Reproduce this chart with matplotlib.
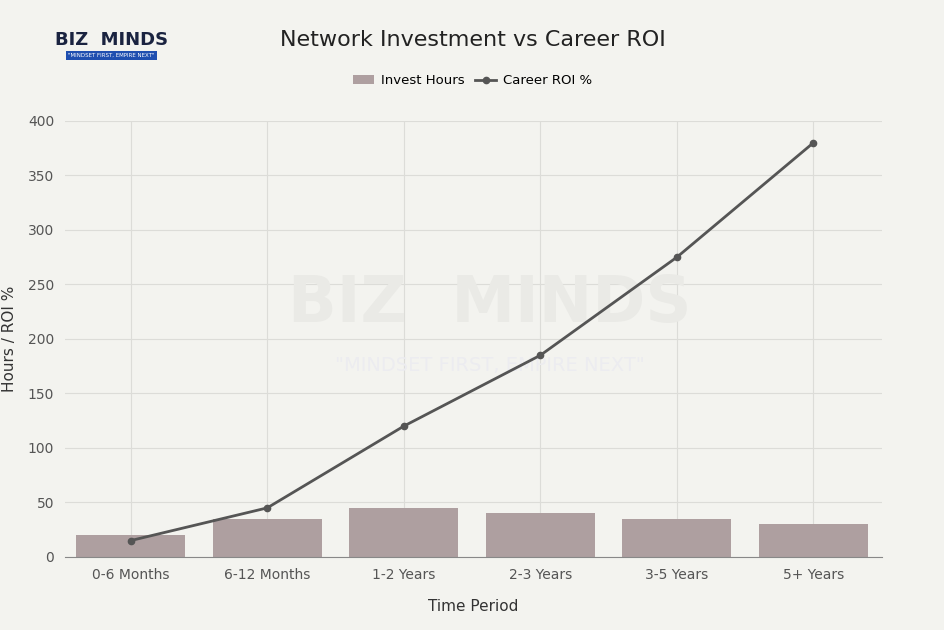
import numpy as np
import matplotlib.pyplot as plt

periods = ['0-6 Months', '6-12 Months', '1-2 Years', '2-3 Years', '3-5 Years', '5+ Years']
invest_hours = [20, 35, 45, 40, 35, 30]
career_roi = [15, 45, 120, 185, 275, 380]

bg = '#f3f3ef'
fig = plt.figure(figsize=(9.45, 6.3), dpi=100, facecolor=bg)
ax = fig.add_axes([0.069, 0.116, 0.864, 0.692], facecolor=bg)

xs = np.arange(len(periods))
bars = ax.bar(xs, invest_hours, width=0.8, color='#ae9fa0', label='Invest Hours', zorder=2)
line, = ax.plot(xs, career_roi, color='#555555', lw=2, marker='o', ms=4.5,
                label='Career ROI %', zorder=3)

ax.set_xlim(-0.48, 5.5)
ax.set_ylim(0, 400)
ax.set_yticks(range(0, 401, 50))
ax.set_xticks(xs)
ax.set_xticklabels(periods)
ax.grid(True, color='#dcdcd8', lw=0.8, zorder=0)
ax.set_axisbelow(True)
for s in ['top', 'right', 'left']:
    ax.spines[s].set_visible(False)
ax.spines['bottom'].set_color('#888888')
ax.tick_params(length=0, labelsize=10, colors='#555555', pad=8)
ax.set_xlabel('Time Period', fontsize=11, color='#333333', labelpad=12)
ax.set_ylabel('Hours / ROI %', fontsize=11, color='#333333', labelpad=8)

# watermark
ax.text(0.52, 0.58, 'BIZ  MINDS', transform=ax.transAxes, ha='center', va='center',
        fontsize=46, fontweight='bold', color='#eaeae6', zorder=1)
ax.text(0.52, 0.44, '"MINDSET FIRST, EMPIRE NEXT"', transform=ax.transAxes,
        ha='center', va='center', fontsize=14, color='#ececf0', zorder=1)

fig.text(0.5, 0.936, 'Network Investment vs Career ROI', ha='center', va='center',
         fontsize=16, fontweight='medium', color='#222222')
fig.legend([bars, line], ['Invest Hours', 'Career ROI %'], loc='center',
           bbox_to_anchor=(0.5, 0.872), ncol=2, frameon=False, fontsize=9.5,
           handlelength=1.6, columnspacing=0.8, handletextpad=0.5)

# logo
fig.text(0.118, 0.937, 'BIZ  MINDS', ha='center', va='center', fontsize=13,
         fontweight='bold', color='#1a2340')
fig.text(0.118, 0.912, '"MINDSET FIRST, EMPIRE NEXT"', ha='center', va='center',
         fontsize=4, color='white',
         bbox=dict(boxstyle='square,pad=0.35', fc='#1f4fb0', ec='none'))

fig.savefig('out.png', dpi=100, facecolor=bg)
